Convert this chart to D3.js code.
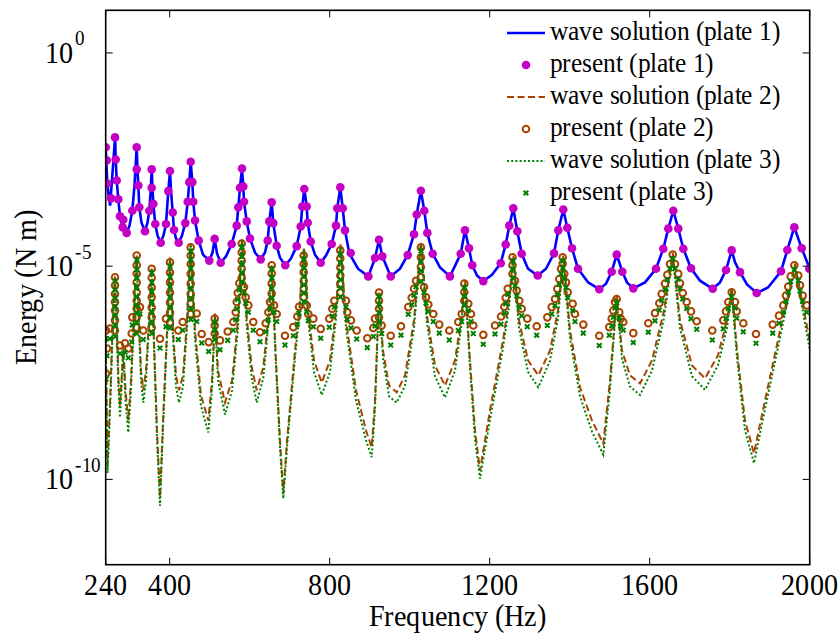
<!DOCTYPE html>
<html>
<head>
<meta charset="utf-8">
<script src="https://cdn.jsdelivr.net/npm/d3@7"></script>
<style>
  @font-face { font-family: 'FigSerif'; src: local('Liberation Serif'), local('LiberationSerif-Regular'), local('Tinos'), local('Times New Roman'); }
  body { margin: 0; background: #fff; }
  #chart svg text { font-family: FigSerif, 'Liberation Serif', serif; }
</style>
</head>
<body>
<div id="chart"></div>
<script>
// Energy vs frequency, three plates: [frequency (Hz), log10 energy (N m)]
const xTicks = [240, 400, 800, 1200, 1600, 2000];
const yTickExps = [0, -5, -10];

const wave1 = [
  [240,-2.21],[244,-3.06],[248,-3.39],[251,-3.58],[263.5,-1.98],[265,-2.50],[267.5,-2.99],[271.5,-3.43],
  [275.75,-3.83],[282.5,-4.09],[292.5,-4.22],[299.5,-4.05],[306.5,-3.70],[312,-3.11],[317.5,-2.21],[319.5,-2.73],
  [321.5,-3.11],[324,-3.62],[329.5,-3.98],[338.25,-4.18],[344.5,-3.98],[349,-3.70],[352.5,-3.23],[355,-2.73],
  [357,-3.16],[359,-3.54],[364,-4.01],[369.5,-4.28],[377,-4.45],[384.5,-4.28],[390.75,-4.01],[396.5,-3.24],
  [400.75,-2.77],[403.25,-3.23],[407.5,-3.74],[410.75,-4.15],[415.75,-4.35],[422.5,-4.45],[430.75,-4.28],
  [439,-3.99],[445,-3.49],[449,-3.03],[452.5,-2.55],[456.5,-3.03],[459,-3.49],[463.25,-3.93],[472.5,-4.40],
  [483.25,-4.73],[499,-4.87],[507,-4.68],[512.5,-4.36],[518.25,-4.70],[527.5,-4.92],[540.75,-4.77],[555,-4.48],
  [567.5,-4.05],[571.5,-3.62],[575.75,-3.16],[580.75,-2.71],[584,-3.13],[585.75,-3.49],[592.5,-3.95],[600.75,-4.35],
  [613.25,-4.68],[627.5,-4.84],[638.25,-4.68],[645,-4.40],[649,-3.95],[655,-3.50],[659,-3.99],[667.5,-4.52],
  [675.75,-4.80],[689,-4.98],[703,-4.82],[717.5,-4.53],[727.5,-4.07],[731.5,-3.60],[736.5,-3.19],[742.5,-3.60],
  [745,-3.98],[752.5,-4.42],[763.25,-4.73],[777.5,-4.92],[790.75,-4.75],[805,-4.48],[815.75,-4.05],[819,-3.64],
  [826.5,-3.15],[832.5,-3.64],[838.25,-4.16],[849,-4.70],[870.75,-5.06],[896.5,-5.24],[913.25,-4.81],[923.25,-4.38],
  [931.5,-4.77],[952.5,-5.24],[975.75,-5.06],[995,-4.74],[1010.75,-4.25],[1017.5,-3.79],[1028,-3.23],[1036.5,-3.70],
  [1044,-4.22],[1057.5,-4.71],[1075.75,-5.03],[1100.75,-5.24],[1127.5,-4.71],[1138.25,-4.16],[1148.25,-4.58],
  [1156.5,-4.98],[1168.25,-5.22],[1184,-5.35],[1205.75,-5.20],[1227.5,-4.93],[1240,-4.49],[1249,-4.05],[1259,-3.64],
  [1269,-4.18],[1280,-4.71],[1295.75,-5.06],[1320,-5.22],[1340.75,-5.06],[1360.75,-4.70],[1371.5,-4.16],[1384,-3.67],
  [1394,-4.10],[1405.75,-4.58],[1420.75,-5.06],[1445.75,-5.38],[1474,-5.54],[1490.75,-5.41],[1505,-5.13],
  [1517.5,-4.73],[1531.5,-5.13],[1543.25,-5.38],[1559,-5.52],[1588.25,-5.38],[1615.75,-5.06],[1634,-4.59],
  [1646.5,-4.12],[1659,-3.70],[1671.5,-4.12],[1684,-4.59],[1703.25,-5.05],[1725.75,-5.34],[1757.5,-5.53],
  [1775.75,-5.38],[1790.75,-5.09],[1805,-4.63],[1813.25,-4.91],[1825.75,-5.14],[1843.25,-5.43],[1867.5,-5.63],
  [1895.75,-5.50],[1928.25,-5.12],[1944,-4.62],[1961.5,-4.09],[1980,-4.58],[2000,-5.06]
];

const present1 = [
  [240,-2.21],[242.5,-2.52],[244,-3.06],[253.25,-3.41],[263.25,-1.98],[265,-2.50],[267.5,-2.99],[271.5,-3.43],
  [275.75,-3.83],[284,-3.91],[282.5,-4.09],[292.5,-4.22],[306.5,-3.70],[317.5,-2.21],[317.5,-2.73],[321.5,-3.11],
  [324,-3.62],[338.25,-4.18],[349,-3.70],[355,-2.73],[355,-3.16],[359,-3.54],[364,-4.01],[377.5,-4.45],
  [390.75,-4.01],[396.5,-3.24],[400.75,-2.77],[407.5,-3.74],[410.75,-4.15],[422.5,-4.45],[439,-3.99],[445,-3.49],
  [449,-3.03],[452.5,-2.55],[456.5,-3.03],[459,-3.49],[463.25,-3.93],[472.5,-4.40],[499,-4.87],[512.5,-4.36],
  [527.5,-4.92],[555,-4.48],[567.5,-4.05],[571.5,-3.62],[575.75,-3.16],[580.75,-2.71],[584,-3.13],[585.75,-3.49],
  [592.5,-3.95],[600.75,-4.35],[627.5,-4.84],[645,-4.40],[649,-3.95],[655,-3.50],[659,-3.99],[667.5,-4.52],
  [689,-4.98],[717.5,-4.53],[727.5,-4.07],[731.5,-3.60],[736.5,-3.19],[742.5,-3.60],[745,-3.98],[752.5,-4.42],
  [777.5,-4.92],[805,-4.48],[815.75,-4.05],[819,-3.64],[826.5,-3.15],[832.5,-3.64],[838.25,-4.16],[852.5,-4.69],
  [896.5,-5.24],[913.25,-4.81],[923.25,-4.38],[931.5,-4.77],[952.5,-5.24],[995,-4.74],[1010.75,-4.25],
  [1017.5,-3.79],[1028,-3.23],[1036.5,-3.70],[1044,-4.22],[1057.5,-4.71],[1100.75,-5.24],[1127.5,-4.71],
  [1138.25,-4.16],[1148.25,-4.58],[1156.5,-4.98],[1184,-5.35],[1227.5,-4.93],[1240,-4.49],[1249,-4.05],
  [1259,-3.64],[1269,-4.18],[1280,-4.71],[1320,-5.22],[1360.75,-4.70],[1371.5,-4.16],[1384,-3.67],[1394,-4.10],
  [1405.75,-4.58],[1420.75,-5.06],[1474,-5.54],[1505,-5.13],[1517.5,-4.73],[1531.5,-5.13],[1559,-5.52],
  [1615.75,-5.06],[1634,-4.59],[1646.5,-4.12],[1659,-3.70],[1671.5,-4.12],[1684,-4.59],[1703.25,-5.05],
  [1757.5,-5.53],[1790.75,-5.09],[1805,-4.63],[1825.75,-5.14],[1867.5,-5.63],[1928.25,-5.12],[1944,-4.62],
  [1961.5,-4.09],[1980,-4.58],[1999,-5.06]
];

const wave2 = [
  [240,-6.63],[244.5,-9.67],[251,-8.15],[258.5,-6.04],[263.25,-5.24],[268.25,-6.51],[272,-7.68],[275.75,-8.27],
  [279.5,-7.68],[284,-6.86],[289.5,-7.91],[296.5,-8.62],[303.25,-7.68],[310.75,-6.04],[317.5,-4.75],[323.25,-6.27],
  [328.25,-7.45],[334,-7.91],[340.75,-7.45],[348.25,-6.27],[355,-5.03],[360.75,-6.74],[368.25,-8.85],[375.75,-10.42],
  [383.25,-8.62],[393.25,-6.51],[400.75,-4.80],[408.25,-6.51],[415.75,-7.56],[423.25,-7.91],[433.25,-7.56],
  [443.25,-6.27],[452.5,-4.47],[463.25,-6.51],[478.25,-8.03],[496.5,-8.62],[505.75,-7.68],[513.25,-6.11],
  [520.75,-7.45],[538.25,-8.20],[555.75,-7.68],[570.75,-6.27],[580.75,-4.35],[592.5,-6.20],[605,-7.37],[617.5,-7.91],
  [634,-7.37],[646.5,-6.20],[655,-4.98],[665.75,-7.21],[675.75,-9.09],[684,-10.33],[693.25,-9.09],[713.25,-6.98],
  [725.75,-5.81],[735.75,-4.56],[745.75,-6.04],[760.75,-7.21],[780,-7.73],[800.75,-7.21],[815.75,-6.04],[827,-4.49],
  [840.75,-6.27],[865.75,-7.91],[890.75,-8.85],[905,-9.25],[913.25,-8.15],[923.25,-5.62],[933.25,-6.98],
  [948.25,-7.80],[967.5,-7.96],[988.25,-7.56],[1010.75,-6.27],[1028,-4.45],[1043.25,-6.16],[1063.25,-7.33],
  [1088.25,-7.80],[1113.25,-7.21],[1128.25,-6.27],[1138.25,-5.34],[1150.75,-7.21],[1163.25,-8.85],[1175.75,-9.79],
  [1200.75,-8.38],[1233.25,-6.74],[1248.25,-5.81],[1259,-4.75],[1273.25,-6.27],[1295.75,-7.21],[1321.5,-7.56],
  [1350.75,-6.98],[1370.75,-6.04],[1384,-4.75],[1400.75,-6.51],[1425.75,-7.84],[1455.75,-8.62],[1484,-9.16],
  [1500.75,-7.68],[1517.5,-5.69],[1530.75,-6.98],[1550.75,-7.56],[1575.75,-7.75],[1605.75,-7.21],[1635.75,-6.04],
  [1657.5,-4.68],[1675.75,-6.27],[1705.75,-7.33],[1738.25,-7.63],[1770.75,-7.09],[1793.25,-6.27],[1805,-5.52],
  [1818.25,-6.98],[1838.25,-8.62],[1860.75,-9.39],[1888.25,-8.15],[1925.75,-6.51],[1948.25,-5.57],[1963.25,-4.94],
  [1980.75,-5.81],[2000,-6.74]
];

const present2 = [
  [240.75,-6.51],[243.25,-6.93],[240.75,-7.52],[250.75,-6.46],
  [263.25,-5.26],[263.25,-5.45],[263.25,-5.65],[263.25,-5.84],[263.25,-6.04],[263.25,-6.27],[263.25,-6.51],
  [275.75,-6.86],[288.25,-6.81],[296.5,-6.93],[305,-6.58],[306.5,-6.20],
  [317.5,-4.75],[317.5,-4.98],[317.5,-5.17],[317.5,-5.38],[317.5,-5.62],[317.5,-5.81],[317.5,-5.99],[317.5,-6.20],[317.5,-6.44],
  [325.75,-5.96],[334,-6.51],
  [355,-5.06],[355,-5.27],[355,-5.50],[355,-5.73],[355,-5.97],[355,-6.20],[355,-6.44],
  [375.75,-6.70],[390.75,-6.23],
  [400.75,-4.91],[400.75,-5.15],[400.75,-5.38],[400.75,-5.62],[400.75,-5.85],[400.75,-6.09],[400.75,-6.32],
  [421.5,-6.51],[432.5,-6.31],
  [452.5,-4.56],[452.5,-4.75],[452.5,-4.95],[452.5,-5.18],[452.5,-5.41],[452.5,-5.65],[452.5,-5.88],[452.5,-6.12],
  [467.5,-6.11],[480,-6.59],[497.5,-6.78],[512.5,-6.23],[512.5,-6.39],[512.5,-6.58],[525.75,-6.74],[545,-6.53],
  [559,-6.31],[565,-6.08],[567.5,-5.84],[570,-5.63],[574,-5.40],
  [580,-4.47],[580,-4.68],[580,-4.87],[580,-5.06],[580,-5.27],
  [585.75,-5.49],[590,-5.73],[596.5,-5.92],[609,-6.31],[625.75,-6.55],[640,-6.34],[646.5,-6.08],[650.75,-5.84],
  [655,-4.98],[655,-5.17],[655,-5.41],[655,-5.64],
  [660.75,-5.92],[667.5,-6.12],[688.25,-6.63],[709,-6.43],[719,-6.18],[723.25,-5.95],
  [735,-4.75],[735,-4.95],[735,-5.14],[735,-5.34],[735,-5.53],[735,-5.73],
  [742.5,-5.92],[746.5,-6.12],[759,-6.23],[777.5,-6.47],[799,-6.23],[806.5,-6.00],[811.5,-5.81],
  [826.5,-4.63],[826.5,-4.82],[826.5,-5.03],[826.5,-5.22],[826.5,-5.41],[826.5,-5.62],
  [840.75,-5.81],[844,-6.08],[853.25,-6.27],[867.5,-6.51],[894,-6.69],[909,-6.45],[913.25,-6.23],
  [923.25,-5.62],[923.25,-5.81],[923.25,-6.00],[923.25,-6.20],
  [930,-6.39],[952.5,-6.63],[978.25,-6.41],[996.5,-5.96],[1005,-5.74],[1010.75,-5.53],[1015.75,-5.34],
  [1028,-4.56],[1028,-4.79],[1028,-5.02],[1028,-5.26],
  [1035.75,-5.49],[1040.75,-5.73],[1046.5,-5.90],[1059,-6.12],[1074,-6.37],[1099,-6.51],[1121.5,-6.31],[1130,-6.12],
  [1136.5,-5.41],[1136.5,-5.61],[1136.5,-5.81],
  [1146.5,-5.88],[1153.25,-6.12],[1159,-6.39],[1184,-6.61],[1213.25,-6.39],[1228.25,-6.18],[1236.5,-5.95],
  [1240,-5.74],[1245,-5.53],[1257,-4.79],[1257,-4.98],[1257,-5.18],
  [1263.25,-5.34],[1267.5,-5.57],[1274,-5.81],[1280,-6.00],[1294,-6.23],[1317.5,-6.41],[1344,-6.20],[1355,-5.96],
  [1363.25,-5.77],[1369,-5.53],[1374,-5.30],[1378.25,-5.06],[1382.5,-4.79],[1382.5,-4.94],[1386.5,-5.18],
  [1390.75,-5.38],[1395,-5.61],[1407.5,-5.88],[1413.25,-6.12],[1434,-6.37],[1474,-6.63],[1499,-6.43],[1505,-6.23],
  [1509,-6.04],[1513.25,-5.84],[1517.5,-5.77],[1524,-6.08],[1527.5,-6.23],[1534,-6.31],[1559,-6.57],[1596.5,-6.34],
  [1613.25,-6.10],[1624,-5.87],[1630,-5.65],[1638.25,-5.41],[1644,-5.20],[1650.75,-4.95],[1657.5,-4.73],
  [1663.25,-4.95],[1671.5,-5.18],[1675.75,-5.40],[1682.5,-5.63],[1692.5,-5.84],[1703.25,-6.06],[1717.5,-6.29],
  [1756.5,-6.51],[1784,-6.27],[1790.75,-6.06],[1796.5,-5.84],[1805,-5.61],[1813.25,-5.84],[1817.5,-6.06],
  [1834,-6.34],[1865.75,-6.59],[1907.5,-6.37],[1923.25,-6.16],[1934,-5.92],[1940.75,-5.69],[1946.5,-5.48],
  [1952.5,-5.24],[1961.5,-4.98],[1971.5,-5.22],[1975.75,-5.45],[1982.5,-5.69],[1992.5,-5.92]
];

const wave3 = [
  [240,-6.75],[244.5,-9.85],[251,-8.35],[258.5,-6.20],[263.25,-5.30],[268.25,-6.70],[272,-7.90],[275.75,-8.55],
  [279.5,-7.90],[284,-7.00],[289.5,-8.15],[296.5,-8.90],[303.25,-7.90],[310.75,-6.20],[317.5,-4.80],[323.25,-6.45],
  [328.25,-7.70],[334,-8.20],[340.75,-7.70],[348.25,-6.45],[355,-5.08],[360.75,-6.90],[368.25,-9.05],[375.75,-10.62],
  [383.25,-8.82],[393.25,-6.68],[400.75,-4.85],[408.25,-6.70],[415.75,-7.82],[423.25,-8.20],[433.25,-7.82],
  [443.25,-6.45],[452.5,-4.52],[463.25,-6.70],[478.25,-8.28],[496.5,-8.90],[505.75,-7.90],[513.25,-6.18],
  [520.75,-7.68],[538.25,-8.48],[555.75,-7.92],[570.75,-6.45],[580.75,-4.40],[592.5,-6.38],[605,-7.62],[617.5,-8.20],
  [634,-7.62],[646.5,-6.38],[655,-5.03],[665.75,-7.38],[675.75,-9.25],[684,-10.45],[693.25,-9.25],[713.25,-7.15],
  [725.75,-5.95],[735.75,-4.62],[745.75,-6.22],[760.75,-7.48],[780,-8.02],[800.75,-7.48],[815.75,-6.22],[827,-4.55],
  [840.75,-6.45],[865.75,-8.15],[890.75,-9.08],[905,-9.48],[913.25,-8.35],[923.25,-5.68],[933.25,-7.15],
  [948.25,-8.05],[967.5,-8.20],[988.25,-7.80],[1010.75,-6.45],[1028,-4.50],[1043.25,-6.35],[1063.25,-7.58],
  [1088.25,-8.08],[1113.25,-7.45],[1128.25,-6.45],[1138.25,-5.40],[1150.75,-7.40],[1163.25,-9.05],[1175.75,-9.98],
  [1200.75,-8.60],[1233.25,-6.92],[1248.25,-5.95],[1259,-4.80],[1273.25,-6.45],[1295.75,-7.48],[1321.5,-7.84],
  [1350.75,-7.22],[1370.75,-6.22],[1384,-4.80],[1400.75,-6.70],[1425.75,-8.05],[1455.75,-8.88],[1484,-9.42],
  [1500.75,-7.88],[1517.5,-5.75],[1530.75,-7.18],[1550.75,-7.82],[1575.75,-8.02],[1605.75,-7.45],[1635.75,-6.22],
  [1657.5,-4.74],[1675.75,-6.45],[1705.75,-7.58],[1738.25,-7.90],[1770.75,-7.32],[1793.25,-6.45],[1805,-5.58],
  [1818.25,-7.15],[1838.25,-8.85],[1860.75,-9.62],[1888.25,-8.35],[1925.75,-6.68],[1948.25,-5.65],[1963.25,-5.00],
  [1980.75,-5.95],[2000,-6.95]
];

const present3 = [
  [240.75,-6.70],[243.25,-7.10],[240.75,-7.65],[250.75,-6.70],
  [264,-5.35],[264,-5.55],[264,-5.75],[264,-5.95],[264,-6.15],[264,-6.40],[264,-6.65],
  [275.75,-7.05],[288.25,-7.02],[296.5,-7.15],[305,-6.78],[306.5,-6.38],
  [318,-4.85],[318,-5.08],[318,-5.28],[318,-5.50],[318,-5.72],[318,-5.92],[318,-6.10],[318,-6.32],[318,-6.58],
  [325.75,-6.12],[334,-6.72],
  [355.5,-5.15],[355.5,-5.38],[355.5,-5.60],[355.5,-5.84],[355.5,-6.08],[355.5,-6.32],[355.5,-6.58],
  [375.75,-6.92],[390.75,-6.42],
  [401,-5.00],[401,-5.25],[401,-5.48],[401,-5.72],[401,-5.96],[401,-6.20],[401,-6.45],
  [421.5,-6.72],[432.5,-6.50],
  [453,-4.65],[453,-4.85],[453,-5.05],[453,-5.28],[453,-5.52],[453,-5.76],[453,-5.99],[453,-6.25],
  [467.5,-6.30],[480,-6.80],[497.5,-7.00],[512.5,-6.32],[512.5,-6.50],[512.5,-6.72],[525.75,-6.96],[545,-6.74],
  [559,-6.50],[565,-6.25],[567.5,-6.00],[570,-5.78],[574,-5.55],
  [580.5,-4.55],[580.5,-4.77],[580.5,-4.96],[580.5,-5.16],[580.5,-5.37],
  [585.75,-5.62],[590,-5.87],[596.5,-6.08],[609,-6.50],[625.75,-6.77],[640,-6.54],[646.5,-6.26],[650.75,-6.00],
  [655.5,-5.06],[655.5,-5.27],[655.5,-5.52],[655.5,-5.75],
  [660.75,-6.08],[667.5,-6.30],[688.25,-6.85],[709,-6.63],[719,-6.36],[723.25,-6.10],
  [735.5,-4.83],[735.5,-5.04],[735.5,-5.24],[735.5,-5.44],[735.5,-5.63],[735.5,-5.84],
  [742.5,-6.07],[746.5,-6.28],[759,-6.42],[777.5,-6.69],[799,-6.43],[806.5,-6.17],[811.5,-5.96],
  [827,-4.71],[827,-4.91],[827,-5.12],[827,-5.32],[827,-5.51],[827,-5.72],
  [840.75,-5.96],[844,-6.24],[853.25,-6.45],[867.5,-6.71],[894,-6.91],[909,-6.65],[913.25,-6.40],
  [923.75,-5.70],[923.75,-5.90],[923.75,-6.10],[923.75,-6.30],
  [930,-6.58],[952.5,-6.85],[978.25,-6.62],[996.5,-6.13],[1005,-5.90],[1010.75,-5.68],[1015.75,-5.48],
  [1028.5,-4.64],[1028.5,-4.88],[1028.5,-5.11],[1028.5,-5.36],
  [1035.75,-5.62],[1040.75,-5.87],[1046.5,-6.06],[1059,-6.30],[1074,-6.57],[1099,-6.73],[1121.5,-6.51],[1130,-6.30],
  [1137,-5.50],[1137,-5.70],[1137,-5.92],
  [1146.5,-6.04],[1153.25,-6.30],[1159,-6.58],[1184,-6.83],[1213.25,-6.59],[1228.25,-6.36],[1236.5,-6.10],
  [1240,-5.88],[1245,-5.66],[1257.5,-4.87],[1257.5,-5.07],[1257.5,-5.28],
  [1263.25,-5.46],[1267.5,-5.70],[1274,-5.96],[1280,-6.16],[1294,-6.42],[1317.5,-6.62],[1344,-6.39],[1355,-6.12],
  [1363.25,-5.92],[1369,-5.67],[1374,-5.43],[1378.25,-5.18],[1382.5,-4.88],[1382.5,-5.04],[1386.5,-5.30],
  [1390.75,-5.50],[1395,-5.74],[1407.5,-6.04],[1413.25,-6.30],[1434,-6.57],[1474,-6.86],[1499,-6.62],[1505,-6.40],
  [1509,-6.20],[1513.25,-5.98],[1517.5,-5.86],[1524,-6.22],[1527.5,-6.40],[1534,-6.50],[1559,-6.79],[1596.5,-6.55],
  [1613.25,-6.28],[1624,-6.03],[1630,-5.80],[1638.25,-5.55],[1644,-5.32],[1650.75,-5.06],[1657.5,-4.82],
  [1663.25,-5.06],[1671.5,-5.30],[1675.75,-5.53],[1682.5,-5.77],[1692.5,-5.99],[1703.25,-6.23],[1717.5,-6.48],
  [1756.5,-6.73],[1784,-6.47],[1790.75,-6.23],[1796.5,-5.99],[1805,-5.72],[1813.25,-5.98],[1817.5,-6.22],
  [1834,-6.54],[1865.75,-6.81],[1907.5,-6.57],[1923.25,-6.34],[1934,-6.08],[1940.75,-5.83],[1946.5,-5.61],
  [1952.5,-5.36],[1961.5,-5.08],[1971.5,-5.34],[1975.75,-5.58],[1982.5,-5.83],[1992.5,-6.08]
];

const legendLabels = [
  'wave solution (plate 1)', 'present (plate 1)',
  'wave solution (plate 2)', 'present (plate 2)',
  'wave solution (plate 3)', 'present (plate 3)'
];

const colors = { blue: '#0000ff', magenta: '#c300c3', orange: '#a94300', green: '#008000' };

// convert [f, log10E] pairs into objects for the scales
const toPts = arr => arr.map(([f, e]) => ({ f: f, v: Math.pow(10, e) }));

const W = 840, H = 637;
const plot = { left: 105.7, right: 809.7, top: 10.3, bottom: 564.7 };

const svg = d3.select('#chart').append('svg')
  .attr('width', W).attr('height', H);

const x = d3.scaleLinear().domain([240, 2000]).range([plot.left, plot.right]);
const y = d3.scaleLog().domain([1e-12, 10]).range([plot.bottom, plot.top]);

// stretched serif labels like the exported figure
const stretch = 1.1;
const label = (px, py, str, size, anchor, rot) => {
  const g = svg.append('g')
    .attr('transform', `translate(${px},${py})` + (rot ? ` rotate(${rot})` : '') + ` scale(1,${stretch})`);
  return g.append('text')
    .attr('text-anchor', anchor || 'start')
    .attr('font-family', 'Liberation Serif')
    .attr('font-size', size)
    .attr('fill', '#000')
    .text(str);
};

svg.append('defs').append('clipPath').attr('id', 'clip')
  .append('rect')
  .attr('x', plot.left).attr('y', plot.top)
  .attr('width', plot.right - plot.left).attr('height', plot.bottom - plot.top);

const line = d3.line().x(d => x(d.f)).y(d => y(d.v));
const marks = svg.append('g').attr('clip-path', 'url(#clip)');

// plate 1
marks.append('path').datum(toPts(wave1))
  .attr('d', line).attr('fill', 'none')
  .attr('stroke', colors.blue).attr('stroke-width', 2.6);
marks.selectAll('.p1').data(toPts(present1)).enter().append('circle')
  .attr('class', 'p1')
  .attr('cx', d => x(d.f)).attr('cy', d => y(d.v)).attr('r', 4.3)
  .attr('fill', colors.magenta);

// plate 2
marks.append('path').datum(toPts(wave2))
  .attr('d', line).attr('fill', 'none')
  .attr('stroke', colors.orange).attr('stroke-width', 2)
  .attr('stroke-dasharray', '7,3.5');
marks.selectAll('.p2').data(toPts(present2)).enter().append('circle')
  .attr('class', 'p2')
  .attr('cx', d => x(d.f)).attr('cy', d => y(d.v)).attr('r', 3.3)
  .attr('fill', 'none').attr('stroke', colors.orange).attr('stroke-width', 2);

// plate 3
marks.append('path').datum(toPts(wave3))
  .attr('d', line).attr('fill', 'none')
  .attr('stroke', colors.green).attr('stroke-width', 2)
  .attr('stroke-dasharray', '2,2.2');

const cross = (g, cx, cy, s) => {
  g.append('path')
    .attr('d', `M${cx - s},${cy - s}L${cx + s},${cy + s}M${cx - s},${cy + s}L${cx + s},${cy - s}`)
    .attr('stroke', colors.green).attr('stroke-width', 2).attr('fill', 'none');
};
const p3g = marks.append('g');
toPts(present3).forEach(d => cross(p3g, x(d.f), y(d.v), 2.3));

// frame
svg.append('rect')
  .attr('x', plot.left).attr('y', plot.top)
  .attr('width', plot.right - plot.left).attr('height', plot.bottom - plot.top)
  .attr('fill', 'none').attr('stroke', '#000').attr('stroke-width', 1.6);

// inward ticks on all four sides, placed with the scales
const ticks = svg.append('g').attr('stroke', '#000').attr('stroke-width', 1);
xTicks.forEach(v => {
  ticks.append('line').attr('x1', x(v)).attr('x2', x(v)).attr('y1', plot.bottom).attr('y2', plot.bottom - 7);
  ticks.append('line').attr('x1', x(v)).attr('x2', x(v)).attr('y1', plot.top).attr('y2', plot.top + 7);
});
yTickExps.forEach(e => {
  const ty = y(Math.pow(10, e));
  ticks.append('line').attr('x1', plot.left).attr('x2', plot.left + 7).attr('y1', ty).attr('y2', ty);
  ticks.append('line').attr('x1', plot.right).attr('x2', plot.right - 7).attr('y1', ty).attr('y2', ty);
});

// tick labels and axis titles
xTicks.forEach(v => label(x(v), 595, String(v), 28, 'middle'));
yTickExps.forEach(e => {
  const ty = y(Math.pow(10, e));
  label(73.5, ty + 10, '10', 28, 'end');
  label(75, ty - 7.5, String(e), 19, 'start');
});
label((plot.left + plot.right) / 2, 626, 'Frequency (Hz)', 28, 'middle');
label(36, (plot.top + plot.bottom) / 2, 'Energy (N m)', 28, 'middle', -90);

// legend
const rowY = i => 33 + i * 32;
legendLabels.forEach((t, i) => label(550, rowY(i) + 7, t, 25, 'start'));
const leg = svg.append('g');
const lx0 = 507, lx1 = 545, lmid = 526;
leg.append('line').attr('x1', lx0).attr('x2', lx1).attr('y1', rowY(0)).attr('y2', rowY(0))
  .attr('stroke', colors.blue).attr('stroke-width', 2.6);
leg.append('circle').attr('cx', lmid).attr('cy', rowY(1)).attr('r', 4.3).attr('fill', colors.magenta);
leg.append('line').attr('x1', lx0).attr('x2', lx1).attr('y1', rowY(2)).attr('y2', rowY(2))
  .attr('stroke', colors.orange).attr('stroke-width', 2).attr('stroke-dasharray', '7,3.5');
leg.append('circle').attr('cx', lmid).attr('cy', rowY(3)).attr('r', 3.3)
  .attr('fill', 'none').attr('stroke', colors.orange).attr('stroke-width', 2);
leg.append('line').attr('x1', lx0).attr('x2', lx1).attr('y1', rowY(4)).attr('y2', rowY(4))
  .attr('stroke', colors.green).attr('stroke-width', 2).attr('stroke-dasharray', '2,2.2');
cross(leg, lmid, rowY(5), 2.3);
</script>
</body>
</html>
